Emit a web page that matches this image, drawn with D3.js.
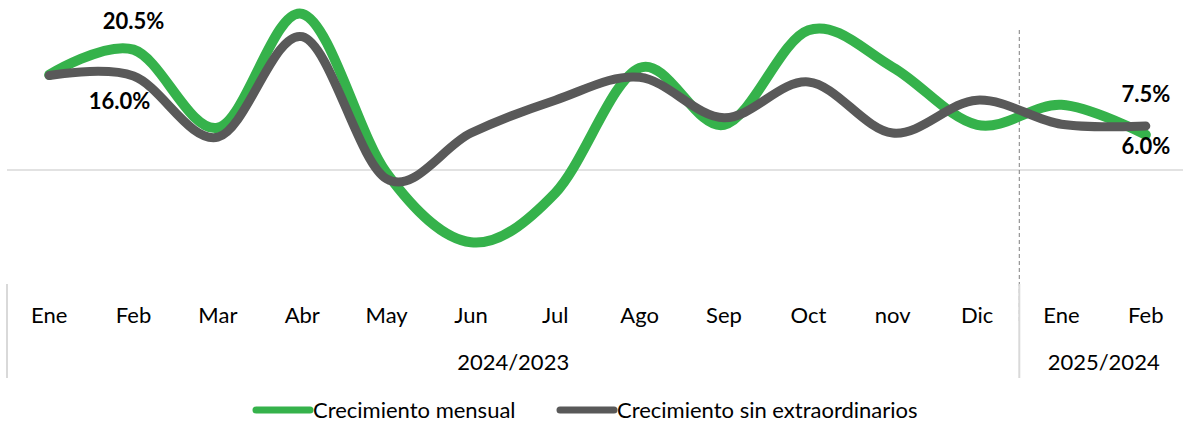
<!DOCTYPE html>
<html>
<head>
<meta charset="utf-8">
<script src="https://cdn.jsdelivr.net/npm/d3@7"></script>
<style>
  body { margin: 0; background: #fff; }
  text { font-family: Lato, "Open Sans", sans-serif; fill: #000; }
</style>
</head>
<body>
<div id="chart"></div>
<script>
const months = ["Ene", "Feb", "Mar", "Abr", "May", "Jun", "Jul", "Ago", "Sep", "Oct", "nov", "Dic", "Ene", "Feb"];
const groups = [
  { label: "2024/2023", from: 0, to: 11 },
  { label: "2025/2024", from: 12, to: 13 }
];
const mensual = [16.2, 20.5, 7.2, 26.6, -0.5, -12.3, -3.9, 17.4, 7.7, 23.8, 17.5, 7.7, 11.1, 6.0];
const sinExtra = [16.1, 16.0, 5.6, 22.7, -1.5, 6.3, 11.9, 15.8, 8.9, 15.0, 6.3, 11.9, 7.8, 7.5];
const seriesNames = ["Crecimiento mensual", "Crecimiento sin extraordinarios"];
const colors = ["#35b24b", "#595959"];

const W = 1183, H = 424;
const plot = { left: 7, right: 1188, top: 5.6, bottom: 264 };

const svg = d3.select("#chart").append("svg")
  .attr("width", W)
  .attr("height", H);

const x_scale = d3.scaleBand()
  .domain(d3.range(months.length))
  .range([plot.left, plot.right]);
const y_scale = d3.scaleLinear()
  .domain([-16, 28])
  .range([plot.bottom, plot.top]);

const cx = i => x_scale(i) + x_scale.bandwidth() / 2;

// zero line
svg.append("line")
  .attr("x1", plot.left).attr("x2", W)
  .attr("y1", y_scale(0)).attr("y2", y_scale(0))
  .attr("stroke", "#d9d9d9").attr("stroke-width", 1.5);

// dashed divider between the two periods
const splitX = x_scale(groups[1].from);
svg.append("line")
  .attr("x1", splitX).attr("x2", splitX)
  .attr("y1", 30).attr("y2", 322)
  .attr("stroke", "#7f7f7f").attr("stroke-width", 1)
  .attr("stroke-dasharray", "4,3");

// category axis: month labels
const axis = svg.append("g").attr("class", "x axis");
axis.selectAll("text.month")
  .data(months)
  .join("text")
  .attr("class", "month")
  .attr("x", (d, i) => cx(i))
  .attr("y", 323)
  .attr("text-anchor", "middle")
  .style("font-size", "22px")
  .text(d => d);

// group labels and bracket lines
axis.selectAll("text.group")
  .data(groups)
  .join("text")
  .attr("class", "group")
  .attr("x", d => (x_scale(d.from) + Math.min(x_scale(d.to) + x_scale.bandwidth(), plot.right)) / 2)
  .attr("y", 370)
  .attr("text-anchor", "middle")
  .style("font-size", "22px")
  .text(d => d.label);

axis.selectAll("line.sep")
  .data(groups)
  .join("line")
  .attr("class", "sep")
  .attr("x1", d => x_scale(d.from)).attr("x2", d => x_scale(d.from))
  .attr("y1", 284).attr("y2", 378)
  .attr("stroke", "#d9d9d9").attr("stroke-width", 2);

// lines
const line = d3.line()
  .x((d, i) => cx(i))
  .y(d => y_scale(d))
  .curve(d3.curveCatmullRom.alpha(0));

const lines = svg.append("g").attr("class", "lines");
lines.append("path")
  .datum(mensual)
  .attr("d", line)
  .attr("fill", "none")
  .attr("stroke", colors[0])
  .attr("stroke-width", 10)
  .attr("stroke-linecap", "round")
  .attr("stroke-linejoin", "round");
lines.append("path")
  .datum(sinExtra)
  .attr("d", line)
  .attr("fill", "none")
  .attr("stroke", colors[1])
  .attr("stroke-width", 9)
  .attr("stroke-linecap", "round")
  .attr("stroke-linejoin", "round");

// data labels
const fmt = d3.format(".1f");
const last = months.length - 1;
const labels = [
  { i: 1, v: mensual[1], dx: 0, dy: -21 },
  { i: 1, v: sinExtra[1], dx: -14, dy: 33 },
  { i: last, v: sinExtra[last], dx: 0, dy: -24 },
  { i: last, v: mensual[last], dx: 0, dy: 19 }
];
svg.append("g").selectAll("text")
  .data(labels)
  .join("text")
  .attr("x", d => cx(d.i) + d.dx)
  .attr("y", d => y_scale(d.v) + d.dy)
  .attr("text-anchor", "middle")
  .style("font-size", "22px")
  .style("font-weight", "bold")
  .text(d => fmt(d.v) + "%");

// legend
const legend = svg.append("g").attr("class", "legend");
const legendPos = [253, 557];
seriesNames.forEach((name, k) => {
  const g = legend.append("g").attr("transform", "translate(" + legendPos[k] + ",410)");
  g.append("line")
    .attr("x1", 3).attr("x2", 57)
    .attr("stroke", colors[k])
    .attr("stroke-width", 7)
    .attr("stroke-linecap", "round");
  g.append("text")
    .attr("x", 60)
    .attr("y", 8)
    .style("font-size", "22px")
    .text(name);
});
</script>
</body>
</html>
